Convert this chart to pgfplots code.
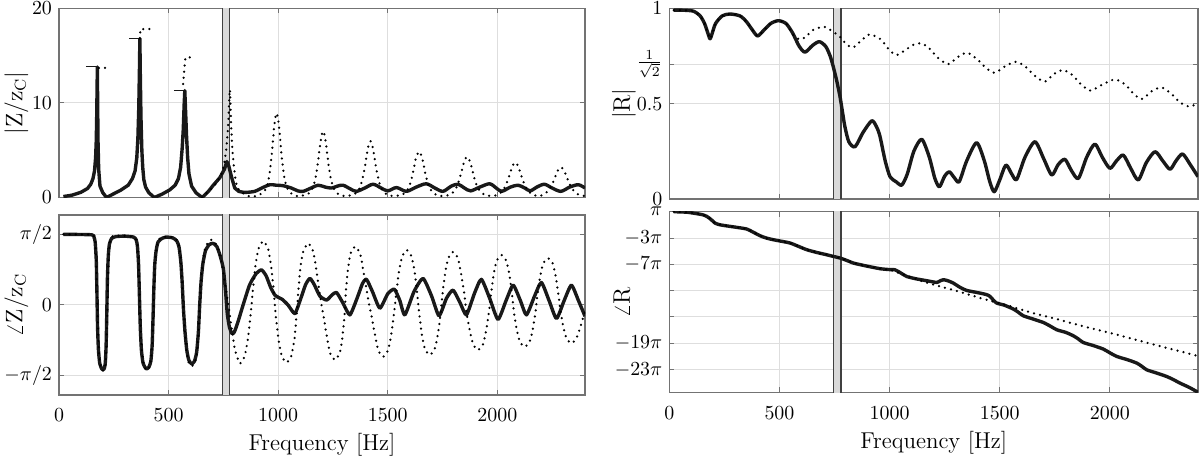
\documentclass[border=0pt]{standalone}
\usepackage{pgfplots}
\pgfplotsset{compat=1.18}
\pgfplotsset{
  myax/.style={
    scale only axis, anchor=south west,
    xmin=0, xmax=2400, xtick={0,500,1000,1500,2000},
    /pgf/number format/set thousands separator={},
    grid=major, major grid style={draw=black!13, line width=0.5pt},
    axis line style={draw=black!55, line width=0.6pt},
    tick style={draw=black!55, line width=0.5pt},
    major tick length=2.5bp, tick align=inside,
    xtick pos=both, ytick pos=both,
    ticklabel style={font=\fontsize{10}{12}\selectfont, text=black},
    label style={font=\fontsize{11.5}{13}\selectfont},
    ylabel style={at={(axis description cs:-0.081,0.5)}, anchor=center, inner sep=0pt},
    xticklabel style={yshift=-3.5bp},
    xlabel style={at={(axis description cs:0.5,0)}, anchor=center, yshift=-25bp},
    scaled ticks=false, clip=true,
  },
  solidc/.style={black!90, line width=1.7pt, line join=round},
  dotc/.style={black, line width=1.25pt, line cap=round, dash pattern=on 0pt off 3.1pt},
  bandc/.style={fill=black!15, draw=black!75, line width=0.7pt},
}
\begin{document}
\begin{tikzpicture}
\useasboundingbox (0,0) rectangle (600bp,228bp);

% ---------------- left top |Z/zc|
\begin{axis}[myax, at={(29.5bp,129.25bp)}, width=263bp, height=94.6bp,
  ymin=0, ymax=20, ytick={0,10,20}, xticklabels={},
  ylabel={$|\mathrm{Z}/\mathrm{z}_{\mathrm{C}}|$}]
\addplot[bandc] coordinates {(745,-1) (779,-1) (779,30) (745,30)} -- cycle;
\addplot[solidc] coordinates {
(20,0.1) (60,0.25) (100,0.55) (130,0.95) (145,1.4) (155,2.0) (162,2.8) (167,4.2) (170,6) (172,8.5) (174,12) (175,13.8) (176,11) (178,6) (181,3) (187,1.2) (200,0.5) (217,0)
(250,0.4) (280,0.75) (316,1.3) (335,2.0) (347,2.8) (355,4.2) (360,6.3) (364,9.5) (367,13.5) (369,16.8) (371,13) (374,8.5) (378,5) (382,3.2) (387,1.9) (395,1.1) (410,0.5) (435,0)
(470,0.35) (505,0.8) (530,1.3) (545,2.0) (555,3.2) (562,5.2) (567,7.2) (571,9.8) (574,11.3) (577,9.5) (582,6.5) (587,4.2) (593,2.5) (605,1.2) (625,0.5) (653,0)
(680,0.6) (704,1.3) (734,2.1) (755,3.0) (766,3.8) (775,3.3) (788,2.1) (802,1.0) (820,0.65) (840,0.55)};
\addplot[solidc, smooth, tension=0.5] coordinates {
(840,0.55) (860,0.55) (894,0.65) (925,1.0) (962,1.35) (990,1.3) (1022,1.25) (1060,1.0) (1090,0.7) (1114,0.65) (1150,1.0) (1182,1.3) (1215,1.1) (1243,1.0) (1270,1.2) (1296,1.3) (1330,0.9) (1357,0.65) (1395,1.0) (1433,1.4) (1470,1.0) (1500,0.7) (1540,1.05) (1585,0.65) (1630,1.1) (1676,1.45) (1715,1.0) (1752,0.65) (1790,1.2) (1821,1.4) (1850,1.0) (1878,0.7) (1920,1.1) (1965,1.45) (1995,1.0) (2020,0.65) (2060,1.1) (2095,1.3) (2125,1.0) (2150,0.7) (2180,1.1) (2215,1.4) (2250,1.0) (2290,0.65) (2330,1.1) (2370,1.35) (2400,1.0)};
\addplot[black!90, line width=0.8pt] coordinates {(123,13.85) (175,13.85)};
\addplot[black!90, line width=0.8pt] coordinates {(320,16.8) (369,16.8)};
\addplot[black!90, line width=0.8pt] coordinates {(524,11.3) (574,11.3)};
\addplot[dotc] coordinates {(182,13.7) (220,13.7)};
\addplot[dotc] coordinates {(369,16.8) (371,17.8) (415,17.8)};
\addplot[dotc] coordinates {(566,12.0) (572,13.6) (577,14.8) (620,14.8)};
\addplot[dotc, smooth, tension=0.4] coordinates {
(653,0) (690,0.8) (720,1.6) (745,2.7) (760,4.5) (770,7.0) (776,9.8) (780,11.4) (785,8) (790,5.5) (795,4.0) (800,2.9) (807,1.7) (815,1.0) (830,0.6) (850,0.3) (871,0.12)
(900,0.15) (933,0.55) (948,1.15) (960,2.4) (971,4.6) (981,7.3) (988,8.55) (993,8.9) (998,8.55) (1005,7.3) (1015,4.6) (1026,2.4) (1038,1.15) (1053,0.55) (1075,0.2) (1100,0.15)
(1139,0.42) (1155,0.9) (1169,1.9) (1181,3.6) (1192,5.7) (1199.5,6.7) (1205,7.0) (1210.5,6.7) (1218,5.7) (1229,3.6) (1241,1.9) (1255,0.9) (1271,0.42) (1295,0.18) (1315,0.15)
(1349,0.36) (1367,0.77) (1381,1.6) (1395,3.1) (1407,4.9) (1415,5.7) (1421,5.96) (1427,5.7) (1435,4.9) (1447,3.1) (1461,1.6) (1475,0.77) (1493,0.36) (1515,0.18) (1532,0.15)
(1565,0.29) (1585,0.63) (1600,1.3) (1614,2.5) (1627,4.0) (1636.5,4.65) (1643,4.84) (1649.5,4.65) (1659,4.0) (1672,2.5) (1686,1.3) (1701,0.63) (1721,0.29) (1740,0.17) (1752,0.15)
(1778,0.26) (1799,0.56) (1816,1.16) (1831,2.24) (1845,3.5) (1855,4.13) (1862,4.3) (1869,4.13) (1879,3.5) (1893,2.24) (1908,1.16) (1925,0.56) (1946,0.26) (1972,0.15)
(1992,0.22) (2014,0.48) (2032,1.0) (2049,1.9) (2064,3.0) (2074.5,3.55) (2082,3.7) (2089.5,3.55) (2100,3.0) (2115,1.9) (2132,1.0) (2150,0.48) (2172,0.22) (2186,0.16)
(2200,0.2) (2218,0.41) (2237,0.86) (2255,1.66) (2271,2.6) (2282,3.07) (2290,3.2) (2298,3.07) (2309,2.6) (2325,1.66) (2343,0.86) (2362,0.41) (2386,0.2) (2400,0.16)};
\end{axis}

% ---------------- left bottom angle Z/zc
\begin{axis}[myax, at={(29.5bp,30.5bp)}, width=263bp, height=90bp,
  ymin=-2, ymax=2, ytick={-1.5708,0,1.5708}, yticklabels={$-\pi/2$,$0$,$\pi/2$},
  ylabel={$\angle\mathrm{Z}/\mathrm{z}_{\mathrm{C}}$}, xlabel={Frequency [Hz]}]
\addplot[bandc] coordinates {(745,-3) (779,-3) (779,3) (745,3)} -- cycle;
\addplot[solidc, smooth, tension=0.35] coordinates {
(20,1.5708) (150,1.56) (160,1.5) (165,1.4) (170,1.0) (173,0.3) (176,-0.5) (180,-1.0) (186,-1.3) (195,-1.42) (200,-1.44) (206,-1.42) (211,-1.3) (215,-0.9) (218,-0.2) (221,0.6) (225,1.1) (230,1.35) (240,1.48) (260,1.52) (300,1.53) (340,1.51)
(352,1.45) (358,1.3) (363,0.9) (367,0.2) (371,-0.5) (376,-1.0) (383,-1.28) (392,-1.38) (400,-1.42) (410,-1.38) (419,-1.25) (425,-0.9) (429,-0.3) (433,0.4) (437,0.9) (443,1.2) (452,1.4) (470,1.48) (491,1.51) (520,1.49) (538,1.42)
(548,1.28) (556,0.95) (562,0.5) (568,-0.1) (575,-0.6) (583,-1.0) (592,-1.22) (605,-1.31) (618,-1.25) (628,-1.05) (636,-0.6) (642,0) (648,0.5) (656,0.9) (668,1.2) (685,1.34) (703,1.37) (720,1.3) (735,1.1) (750,0.8) (760,0.3) (768,-0.2) (778,-0.5) (790,-0.64) (800,-0.6) (815,-0.4)
(840,0) (870,0.45) (900,0.7) (924,0.78) (945,0.65) (965,0.4) (985,0.22) (1005,0.16) (1020,0.12) (1045,0.0) (1076,-0.19) (1100,0.1) (1125,0.45) (1145,0.59) (1165,0.45) (1190,0.2) (1221,0.11) (1245,0.22) (1266,0.28) (1295,0.05) (1327,-0.22) (1360,0.15) (1385,0.48) (1403,0.57) (1430,0.3) (1464,-0.07)
(1500,0.25) (1530,0.35) (1555,0.1) (1578,-0.22) (1620,0.3) (1661,0.59) (1700,0.2) (1734,-0.24) (1768,0.15) (1798,0.33) (1830,0.05) (1859,-0.22) (1895,0.25) (1927,0.57) (1965,0.15) (2003,-0.32) (2040,0.1) (2072,0.44) (2105,0.1) (2133,-0.22) (2170,0.2) (2201,0.5) (2236,0.1) (2270,-0.3) (2305,0.1) (2338,0.44) (2370,0.1) (2400,-0.25)};
\addplot[dotc, smooth, tension=0.35] coordinates {
(20,1.5708) (150,1.56) (163,1.46) (168,1.22) (172,0.6) (176,-0.2) (180,-0.8) (185,-1.2) (192,-1.42) (200,-1.46) (208,-1.42) (214,-1.22) (218,-0.6) (221,0) (224,0.7) (228,1.2) (235,1.45) (245,1.53) (300,1.54) (340,1.51)
(355,1.42) (362,1.1) (366,0.5) (370,-0.2) (375,-0.8) (382,-1.2) (392,-1.4) (400,-1.45) (410,-1.4) (420,-1.22) (427,-0.7) (432,0) (436,0.7) (442,1.15) (450,1.4) (465,1.5) (490,1.52) (520,1.5) (540,1.44)
(548,1.32) (556,1.02) (562,0.5) (568,-0.1) (575,-0.65) (583,-1.05) (592,-1.28) (605,-1.36) (618,-1.3) (628,-1.1) (636,-0.62) (642,0) (648,0.55) (656,0.98) (668,1.28) (685,1.42) (700,1.45)
(722,1.3) (740,1.0) (755,0.55) (765,0.25) (777,-0.15) (790,-0.6) (803,-1.0) (825,-1.30)
(847,-1.14) (861,-0.78) (873,-0.29) (878.5,0) (884,0.31) (896,0.85) (910,1.25) (932,1.42)
(954,1.25) (968,0.85) (980,0.31) (985,0) (990,-0.28) (1002,-0.77) (1016,-1.13) (1038,-1.28)
(1060,-1.13) (1074,-0.77) (1083,-0.28) (1087.5,0) (1092,0.3) (1101,0.82) (1115,1.2) (1137,1.37)
(1159,1.2) (1173,0.82) (1188,0.3) (1198,0) (1208,-0.27) (1223,-0.73) (1237,-1.07) (1259,-1.22)
(1281,-1.07) (1293,-0.73) (1302,-0.27) (1305.5,0) (1309,0.29) (1318,0.78) (1330,1.14) (1352,1.30)
(1374,1.14) (1388,0.78) (1405,0.29) (1415.5,0) (1426,-0.25) (1443,-0.69) (1457,-1.01) (1479,-1.15)
(1501,-1.01) (1515,-0.69) (1527,-0.25) (1533,0) (1539,0.27) (1551,0.73) (1565,1.07) (1587,1.22)
(1609,1.07) (1623,0.73) (1634,0.27) (1639.5,0) (1645,-0.24) (1656,-0.67) (1670,-0.98) (1692,-1.11)
(1714,-0.98) (1728,-0.67) (1740,-0.24) (1745,0) (1750,0.26) (1762,0.71) (1776,1.04) (1798,1.18)
(1820,1.04) (1834,0.71) (1849,0.26) (1855,0) (1861,-0.22) (1876,-0.6) (1890,-0.88) (1912,-1.0)
(1934,-0.88) (1948,-0.6) (1960,-0.22) (1965.5,0) (1971,0.24) (1983,0.67) (1997,0.98) (2019,1.11)
(2041,0.98) (2055,0.67) (2067,0.24) (2072,0) (2077,-0.2) (2089,-0.56) (2103,-0.82) (2125,-0.93)
(2147,-0.82) (2161,-0.56) (2173,-0.2) (2178,0) (2183,0.23) (2195,0.62) (2209,0.92) (2231,1.04)
(2253,0.92) (2267,0.62) (2279,0.23) (2284.5,0) (2290,-0.19) (2302,-0.51) (2316,-0.75) (2338,-0.85)
(2360,-0.75) (2378,-0.5) (2390,-0.3) (2400,-0.15)};
\end{axis}

% ---------------- right top |R|
\begin{axis}[myax, at={(334.65bp,128.5bp)}, width=264.35bp, height=95.35bp,
  ymin=0, ymax=1, ytick={0,0.5,0.7071,1}, yticklabels={$0$,$0.5$,$\frac{1}{\sqrt{2}}$,$1$}, xticklabels={},
  ylabel={$|\mathrm{R}|$}, ylabel style={at={(axis description cs:-0.086,0.5)}}]
\addplot[bandc] coordinates {(745,-1) (779,-1) (779,2) (745,2)} -- cycle;
\addplot[solidc, smooth, tension=0.45] coordinates {
(20,0.99) (60,0.99) (109,0.985) (140,0.96) (160,0.92) (175,0.87) (185,0.84) (195,0.87) (210,0.92) (240,0.96) (275,0.97) (321,0.96) (350,0.93) (375,0.89) (400,0.855) (425,0.88) (460,0.92) (495,0.935) (530,0.92) (560,0.87) (590,0.8) (616,0.77) (650,0.805) (681,0.825) (710,0.8) (730,0.75) (744,0.695) (760,0.62) (775,0.536) (787,0.45) (797,0.38) (815,0.3) (843,0.274) (880,0.35) (919,0.41) (940,0.38) (956,0.33) (980,0.2) (1002,0.117) (1030,0.09) (1055,0.073) (1080,0.13) (1110,0.25) (1146,0.313) (1180,0.22) (1205,0.11) (1226,0.064) (1250,0.12) (1271,0.143) (1295,0.11) (1316,0.091) (1350,0.2) (1395,0.295) (1430,0.2) (1455,0.09) (1475,0.038) (1500,0.1) (1528,0.178) (1555,0.13) (1577,0.103) (1615,0.22) (1660,0.30) (1700,0.21) (1736,0.126) (1765,0.18) (1796,0.208) (1825,0.15) (1857,0.108) (1895,0.22) (1932,0.288) (1965,0.22) (2000,0.161) (2030,0.2) (2061,0.23) (2095,0.16) (2129,0.10) (2165,0.19) (2205,0.248) (2240,0.2) (2273,0.156) (2300,0.2) (2330,0.236) (2365,0.18) (2400,0.117)};
\addplot[dotc, smooth, tension=0.45] coordinates {
(20,0.99) (60,0.99) (109,0.985) (140,0.96) (160,0.92) (175,0.87) (185,0.84) (195,0.87) (210,0.92) (240,0.96) (275,0.97) (321,0.96) (350,0.93) (375,0.89) (400,0.855) (425,0.88) (460,0.92) (495,0.935) (530,0.92) (563,0.86) (593,0.837) (620,0.85) (650,0.885) (702,0.903) (740,0.88) (775,0.85) (805,0.81) (835,0.795) (870,0.83) (908,0.863) (940,0.85) (964,0.833) (1000,0.78) (1032,0.755) (1070,0.78) (1110,0.81) (1146,0.816) (1180,0.79) (1220,0.74) (1266,0.707) (1310,0.745) (1353,0.767) (1400,0.73) (1440,0.685) (1478,0.662) (1530,0.7) (1577,0.72) (1620,0.69) (1660,0.645) (1705,0.615) (1745,0.655) (1788,0.676) (1830,0.65) (1870,0.6) (1913,0.568) (1965,0.6) (2023,0.627) (2070,0.6) (2105,0.555) (2144,0.524) (2190,0.565) (2235,0.585) (2280,0.55) (2320,0.505) (2364,0.484) (2400,0.505)};
\end{axis}

% ---------------- right bottom angle R (in units of pi)
\begin{axis}[myax, at={(334.65bp,31.85bp)}, width=264.35bp, height=90.3bp,
  ymin=-26.45, ymax=1, ytick={1,-3,-7,-11,-15,-19,-23},
  yticklabels={$\pi$,$-3\pi$,$-7\pi$,,,$-19\pi$,$-23\pi$},
  ylabel={$\angle\mathrm{R}$}, ylabel style={at={(axis description cs:-0.09,0.5)}},
  xlabel={Frequency [Hz]}]
\addplot[bandc] coordinates {(745,-30) (779,-30) (779,3) (745,3)} -- cycle;
\addplot[solidc, smooth, tension=0.4] coordinates {
(20,1.0) (80,0.92) (124,0.70) (150,0.55) (170,0.29) (190,-0.2) (207,-0.72) (225,-0.95) (245,-1.08) (300,-1.35) (351,-1.63) (380,-2.1) (412,-2.65) (440,-3.0) (472,-3.26) (510,-3.5) (548,-3.76) (585,-4.25) (624,-4.78) (670,-5.2) (714,-5.54) (745,-5.8) (775,-6.04) (805,-6.4) (835,-6.8) (880,-7.15) (926,-7.47) (960,-7.68) (1000,-7.8) (1024,-7.82) (1050,-8.3) (1078,-8.85) (1120,-9.2) (1170,-9.5) (1214,-9.75) (1230,-9.5) (1244,-9.34) (1265,-9.5) (1289,-9.85) (1320,-10.5) (1350,-10.97) (1400,-11.3) (1440,-11.6) (1456,-11.88) (1470,-12.4) (1486,-12.89) (1520,-13.2) (1562,-13.8) (1585,-14.3) (1607,-14.82) (1650,-15.3) (1698,-15.84) (1730,-16.4) (1759,-16.95) (1800,-17.35) (1834,-17.86) (1855,-18.3) (1879,-18.88) (1925,-19.35) (1970,-19.88) (2000,-20.45) (2031,-21.0) (2080,-21.5) (2122,-22.01) (2145,-22.5) (2167,-23.03) (2210,-23.5) (2258,-24.05) (2290,-24.55) (2318,-25.05) (2360,-25.7) (2394,-26.33) (2400,-26.42)};
\addplot[dotc, smooth, tension=0.4] coordinates {
(20,1.0) (80,0.92) (124,0.70) (150,0.55) (170,0.29) (190,-0.2) (207,-0.72) (225,-0.95) (245,-1.08) (300,-1.35) (351,-1.63) (380,-2.1) (412,-2.65) (440,-3.0) (472,-3.26) (510,-3.5) (548,-3.76) (585,-4.25) (624,-4.78) (670,-5.2) (714,-5.54) (745,-5.8) (775,-6.04) (805,-6.4) (835,-6.8) (880,-7.15) (926,-7.47) (960,-7.68) (1002,-7.85) (1050,-8.4) (1100,-9.0) (1150,-9.6) (1229,-10.36) (1300,-11.0) (1360,-11.6) (1420,-12.2) (1486,-12.8) (1550,-13.4) (1600,-13.9) (1650,-14.4) (1713,-14.92) (1800,-15.7) (1900,-16.6) (2016,-17.56) (2100,-18.3) (2200,-19.2) (2300,-20.05) (2379,-20.75) (2400,-20.95)};
\end{axis}
\end{tikzpicture}
\end{document}
